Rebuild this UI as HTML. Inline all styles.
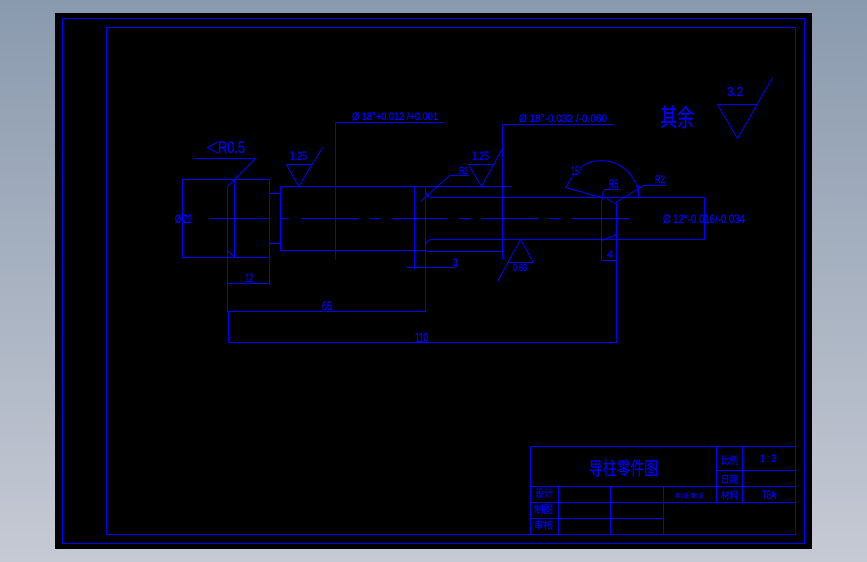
<!DOCTYPE html>
<html><head><meta charset="utf-8"><style>
html,body{margin:0;padding:0;width:867px;height:562px;overflow:hidden;background:linear-gradient(#8a9aae,#c6cad4)}
svg{position:absolute;left:0;top:0}
text{fill:#0000ff;stroke:#0000ff;stroke-width:.35;font-family:"Liberation Sans","WenQuanYi Zen Hei","Noto Sans CJK SC",sans-serif}
text.c{stroke-width:.15}
</style></head><body>
<svg width="867" height="562" viewBox="0 0 867 562">
<rect x="55" y="13" width="757" height="536" fill="#000"/>
<g transform="translate(.5 .5)" fill="none" stroke="#0000ff" stroke-width="1">
<g shape-rendering="crispEdges">
<rect x="62" y="18" width="742" height="525"/>
<rect x="106" y="27" width="689" height="507"/>
<!-- title block -->
<path d="M530 534V446H795M530 486H795M530 502H795M530 518H663M716 446V502M742 446V502M716 470H795M558 486V534M610 486V534M663 486V534"/>
<!-- part -->
<path d="M182 179H269V257H182ZM234 179V257M269 193H280M269 243H280M280 186H511M280 186V250H425M414 186V269M425 186V311M425 251H503M406 267H455"/>
<path d="M430 197H704V239H430M616 203V342H228M601 203V260H616M502 124H613M502 124V259M335 122H443M335 122V259"/>
<path d="M227 186V311M228 311V342M269 243V285M227 283H269M227 311H425M193 158H255"/>
<path d="M209 218H268M279 218H287M301 218H358M369 218H380M391 218H447M458 218H470M481 218H537M548 218H560M571 218H629"/>
<path d="M508 262H533M468 164H493M286 164H311M717 104H756M449 175H468M604 189H618M643 185H665M638 185V197"/>
</g>
<path d="M227 186L255 158M227 250L234 257M425 190Q426 197 432 197M425 245Q426 239 432 239M601 203Q601 198 603 197M606 198L613 202L616 204"/>
<path d="M420 201L449 175M286 164L298 186L322 147M468 164L481 186L503 146M533 262L520 239L497 281M717 104L737 138L772 77"/>
<path d="M565 187L601 197L604 189M615 202L643 185M601 240L616 234M565 187L572 176M581 166A37 37 0 0 1 638 197"/>
<path d="M218 141L207 147L218 153"/>
</g>
<g font-size="11">
<text x="175" y="223" font-size="12" textLength="17" lengthAdjust="spacingAndGlyphs">Ø 22</text>
<text x="245" y="282" font-size="12" textLength="8" lengthAdjust="spacingAndGlyphs">12</text>
<text x="322" y="310" font-size="12" textLength="10" lengthAdjust="spacingAndGlyphs">65</text>
<text x="415" y="342" font-size="13" textLength="13" lengthAdjust="spacingAndGlyphs">110</text>
<text x="290" y="160" font-size="12" textLength="17" lengthAdjust="spacingAndGlyphs">1.25</text>
<text x="472" y="160" font-size="12" textLength="17" lengthAdjust="spacingAndGlyphs">1.25</text>
<text x="459" y="174" font-size="10" textLength="9" lengthAdjust="spacingAndGlyphs">R2</text>
<text x="352" y="120" textLength="86" lengthAdjust="spacingAndGlyphs">Ø 18°+0.012 /+0.001</text>
<text x="519" y="122" textLength="88" lengthAdjust="spacingAndGlyphs">Ø 18°-0.032 /-0.060</text>
<text x="663" y="223" font-size="12" textLength="82" lengthAdjust="spacingAndGlyphs">Ø 12°-0.016/-0.034</text>
<text x="453" y="266" textLength="5" lengthAdjust="spacingAndGlyphs">3</text>
<text x="513" y="271" font-size="10" textLength="14" lengthAdjust="spacingAndGlyphs">0.63</text>
<text x="607" y="258" textLength="6" lengthAdjust="spacingAndGlyphs">4</text>
<text x="609" y="188" font-size="12" textLength="9" lengthAdjust="spacingAndGlyphs">R5</text>
<text x="655" y="183" font-size="11" textLength="10" lengthAdjust="spacingAndGlyphs">R2</text>
<text x="571" y="175" font-size="12" textLength="11" lengthAdjust="spacingAndGlyphs">15°</text>
</g>
<text x="218" y="153" font-size="17" textLength="27" lengthAdjust="spacingAndGlyphs">R0.5</text>
<text x="727" y="96" font-size="13" textLength="16" lengthAdjust="spacingAndGlyphs">3.2</text>
<text class="c" transform="translate(660 126) scale(1 1.45)" font-size="17" textLength="34" lengthAdjust="spacingAndGlyphs">其余</text>
<text class="c" transform="translate(589 475) scale(1 1.3)" font-size="14" textLength="69" lengthAdjust="spacingAndGlyphs">导柱零件图</text>
<text class="c" x="721" y="464" font-size="10" textLength="17" lengthAdjust="spacingAndGlyphs">比例</text>
<text class="c" x="721" y="483" font-size="10" textLength="17" lengthAdjust="spacingAndGlyphs">日期</text>
<text class="c" x="721" y="499" font-size="10" textLength="17" lengthAdjust="spacingAndGlyphs">材料</text>
<text x="760" y="462" font-size="11" textLength="16" lengthAdjust="spacingAndGlyphs">1 : 3</text>
<text x="762" y="499" font-size="12" textLength="14" lengthAdjust="spacingAndGlyphs">T8A</text>
<text class="c" x="535" y="497" font-size="10" textLength="18" lengthAdjust="spacingAndGlyphs">设计</text>
<text class="c" x="534" y="513" font-size="10" textLength="19" lengthAdjust="spacingAndGlyphs">制图</text>
<text class="c" x="534" y="529" font-size="10" textLength="19" lengthAdjust="spacingAndGlyphs">审核</text>
<text class="c" x="675" y="498" font-size="6" textLength="29" lengthAdjust="spacingAndGlyphs">共1张 第1张</text>
</svg>
</body></html>
